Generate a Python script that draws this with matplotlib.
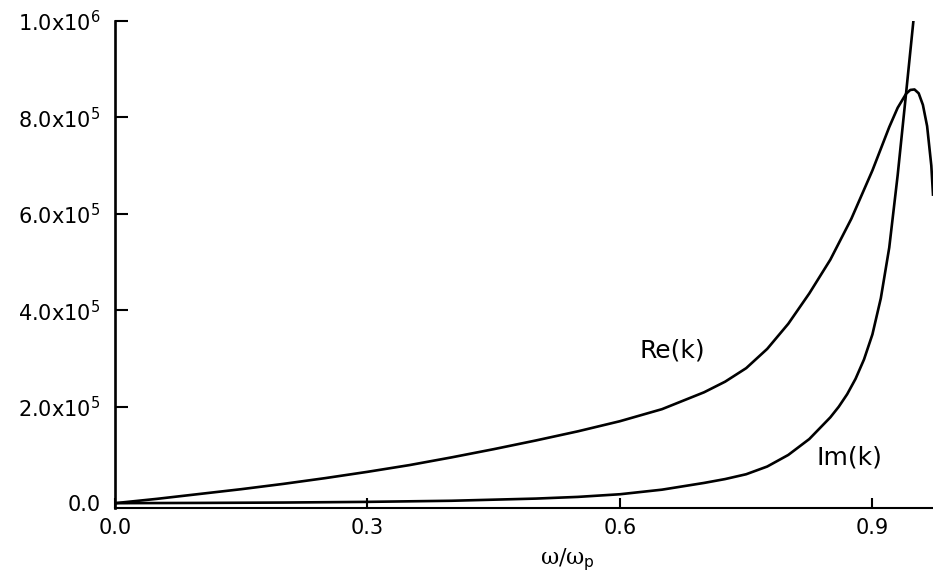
import matplotlib
matplotlib.use("Agg")
import matplotlib.pyplot as plt

# values
re_x = [0.0, 0.05, 0.1, 0.15, 0.2, 0.25, 0.3, 0.35, 0.4, 0.45, 0.5, 0.55,
        0.6, 0.65, 0.7, 0.725, 0.75, 0.775, 0.8, 0.825, 0.85, 0.875, 0.9,
        0.91, 0.92, 0.93, 0.94, 0.945, 0.95, 0.955, 0.96, 0.965, 0.97, 0.972]
re_y = [0, 9000, 19000, 29000, 40000, 52000, 65000, 79000, 95000, 112000,
        130000, 149000, 170000, 195000, 230000, 252000, 280000, 320000,
        372000, 435000, 505000, 590000, 690000, 735000, 780000, 820000,
        849000, 857000, 858000, 850000, 826000, 782000, 700000, 640000]

im_x = [0.0, 0.1, 0.2, 0.3, 0.4, 0.5, 0.55, 0.6, 0.65, 0.7, 0.725, 0.75,
        0.775, 0.8, 0.825, 0.85, 0.86, 0.87, 0.88, 0.89, 0.9, 0.91, 0.92,
        0.93, 0.94, 0.949]
im_y = [0, 500, 1300, 2700, 5000, 9500, 13000, 18500, 28000, 42000, 50000,
        60000, 76000, 100000, 133000, 178000, 200000, 226000, 258000,
        298000, 350000, 425000, 530000, 680000, 850000, 1005000]

x_ticks = [0.0, 0.3, 0.6, 0.9]
x_labels = ["0.0", "0.3", "0.6", "0.9"]
y_ticks = [0, 2e5, 4e5, 6e5, 8e5, 1e6]
y_labels = ["0.0", r"2.0x10$^5$", r"4.0x10$^5$", r"6.0x10$^5$",
            r"8.0x10$^5$", r"1.0x10$^6$"]

plt.rcParams['font.family'] = ['DejaVu Sans']
plt.rcParams['mathtext.fontset'] = 'dejavusans'

fig = plt.figure(figsize=(9.33, 5.77), dpi=100)
ax = fig.add_axes([0.1233, 0.1196, 0.8767, 0.844])

ax.plot(re_x, re_y, color="black", lw=1.9, solid_joinstyle="round")
ax.plot(im_x, im_y, color="black", lw=1.9, solid_joinstyle="round")

ax.set_xlim(0, 0.972)
ax.set_ylim(-10000, 1.0e6)

for s in ["top", "right"]:
    ax.spines[s].set_visible(False)
ax.spines["left"].set_linewidth(1.9)
ax.spines["bottom"].set_linewidth(1.5)

ax.set_xticks(x_ticks)
ax.set_xticklabels(x_labels)
ax.set_yticks(y_ticks)
ax.set_yticklabels(y_labels)
ax.tick_params(axis="y", direction="in", length=9.4, width=1.5, pad=10.5,
               labelsize=15)
ax.tick_params(axis="x", direction="in", length=7.2, width=1.5, pad=7,
               labelsize=15)

ax.text(0.662, 317000, "Re(k)", fontsize=18, ha="center", va="center")
ax.text(0.873, 95000, "Im(k)", fontsize=18, ha="center", va="center")

ax.text(0.553, -0.105, r"ω/ω$_\mathrm{p}$", transform=ax.transAxes,
        family="DejaVu Serif", fontsize=16, ha="center", va="center")

plt.savefig("out.png", dpi=100)
